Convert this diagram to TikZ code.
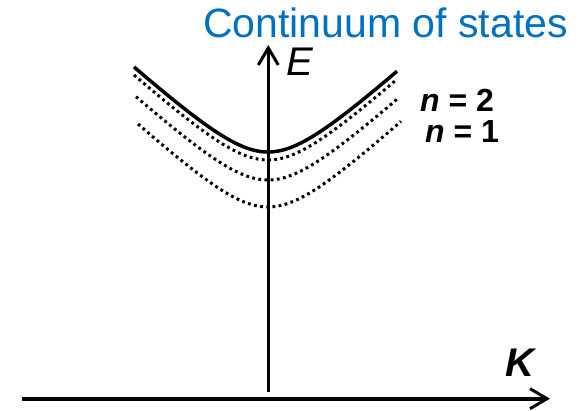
\documentclass[tikz,border=0pt]{standalone}
\usepackage{fontspec}
\setmainfont{Liberation Sans}
\usetikzlibrary{arrows.meta}
\definecolor{titleblue}{RGB}{0,112,192}
\tikzset{
  axis/.style={line width=3pt,-{Straight Barb[length=17pt,width=20pt,line width=3pt]}},
  band/.style={line width=3.5pt},
  level/.style={line width=3pt,dash pattern=on 2.8pt off 3.4pt},
  lbl/.style={inner sep=0pt,anchor=base west}
}
\begin{document}
\begin{tikzpicture}[x=1pt,y=-1pt]
\useasboundingbox (0,0) rectangle (584,411);
% axes
\coordinate (kstart) at (22,398.7);
\coordinate (kend) at (550,398.7);
\coordinate (estart) at (268.3,392);
\coordinate (eend) at (268.3,45);
\draw[axis,line width=4pt] (kstart) -- (kend);
\draw[axis] (estart) -- (eend);
% continuum edge
\draw[band] plot[domain=-134:129,samples=80,smooth] ({268+\x},{152-45.7*(sqrt(1+(\x/50)^2)-1)});
% bound levels
\draw[level] plot[domain=-134:129,samples=80,smooth] ({268+\x},{160-45.7*(sqrt(1+(\x/50)^2)-1)});
\draw[level] plot[domain=-132:130,samples=80,smooth] ({268+\x},{180-45.7*(sqrt(1+(\x/50)^2)-1)});
\draw[level] plot[domain=-130:133,samples=80,smooth] ({268+\x},{207-46.5*(sqrt(1+(\x/50)^2)-1)});
% labels
\node[lbl,text=titleblue,font=\fontsize{41}{41}\selectfont] (title) at (203,38) {Continuum of states};
\node[lbl,font=\fontsize{40}{40}\selectfont\itshape] (elab) at (286,76) {E};
\node[lbl,font=\fontsize{32}{32}\selectfont\bfseries] (n2) at (420,112) {\textit{n} = 2};
\node[lbl,font=\fontsize{32}{32}\selectfont\bfseries] (n1) at (425,143) {\textit{n} = 1};
\node[lbl,font=\fontsize{40}{40}\selectfont\bfseries\itshape] (klab) at (505,377) {K};
\end{tikzpicture}
\end{document}
